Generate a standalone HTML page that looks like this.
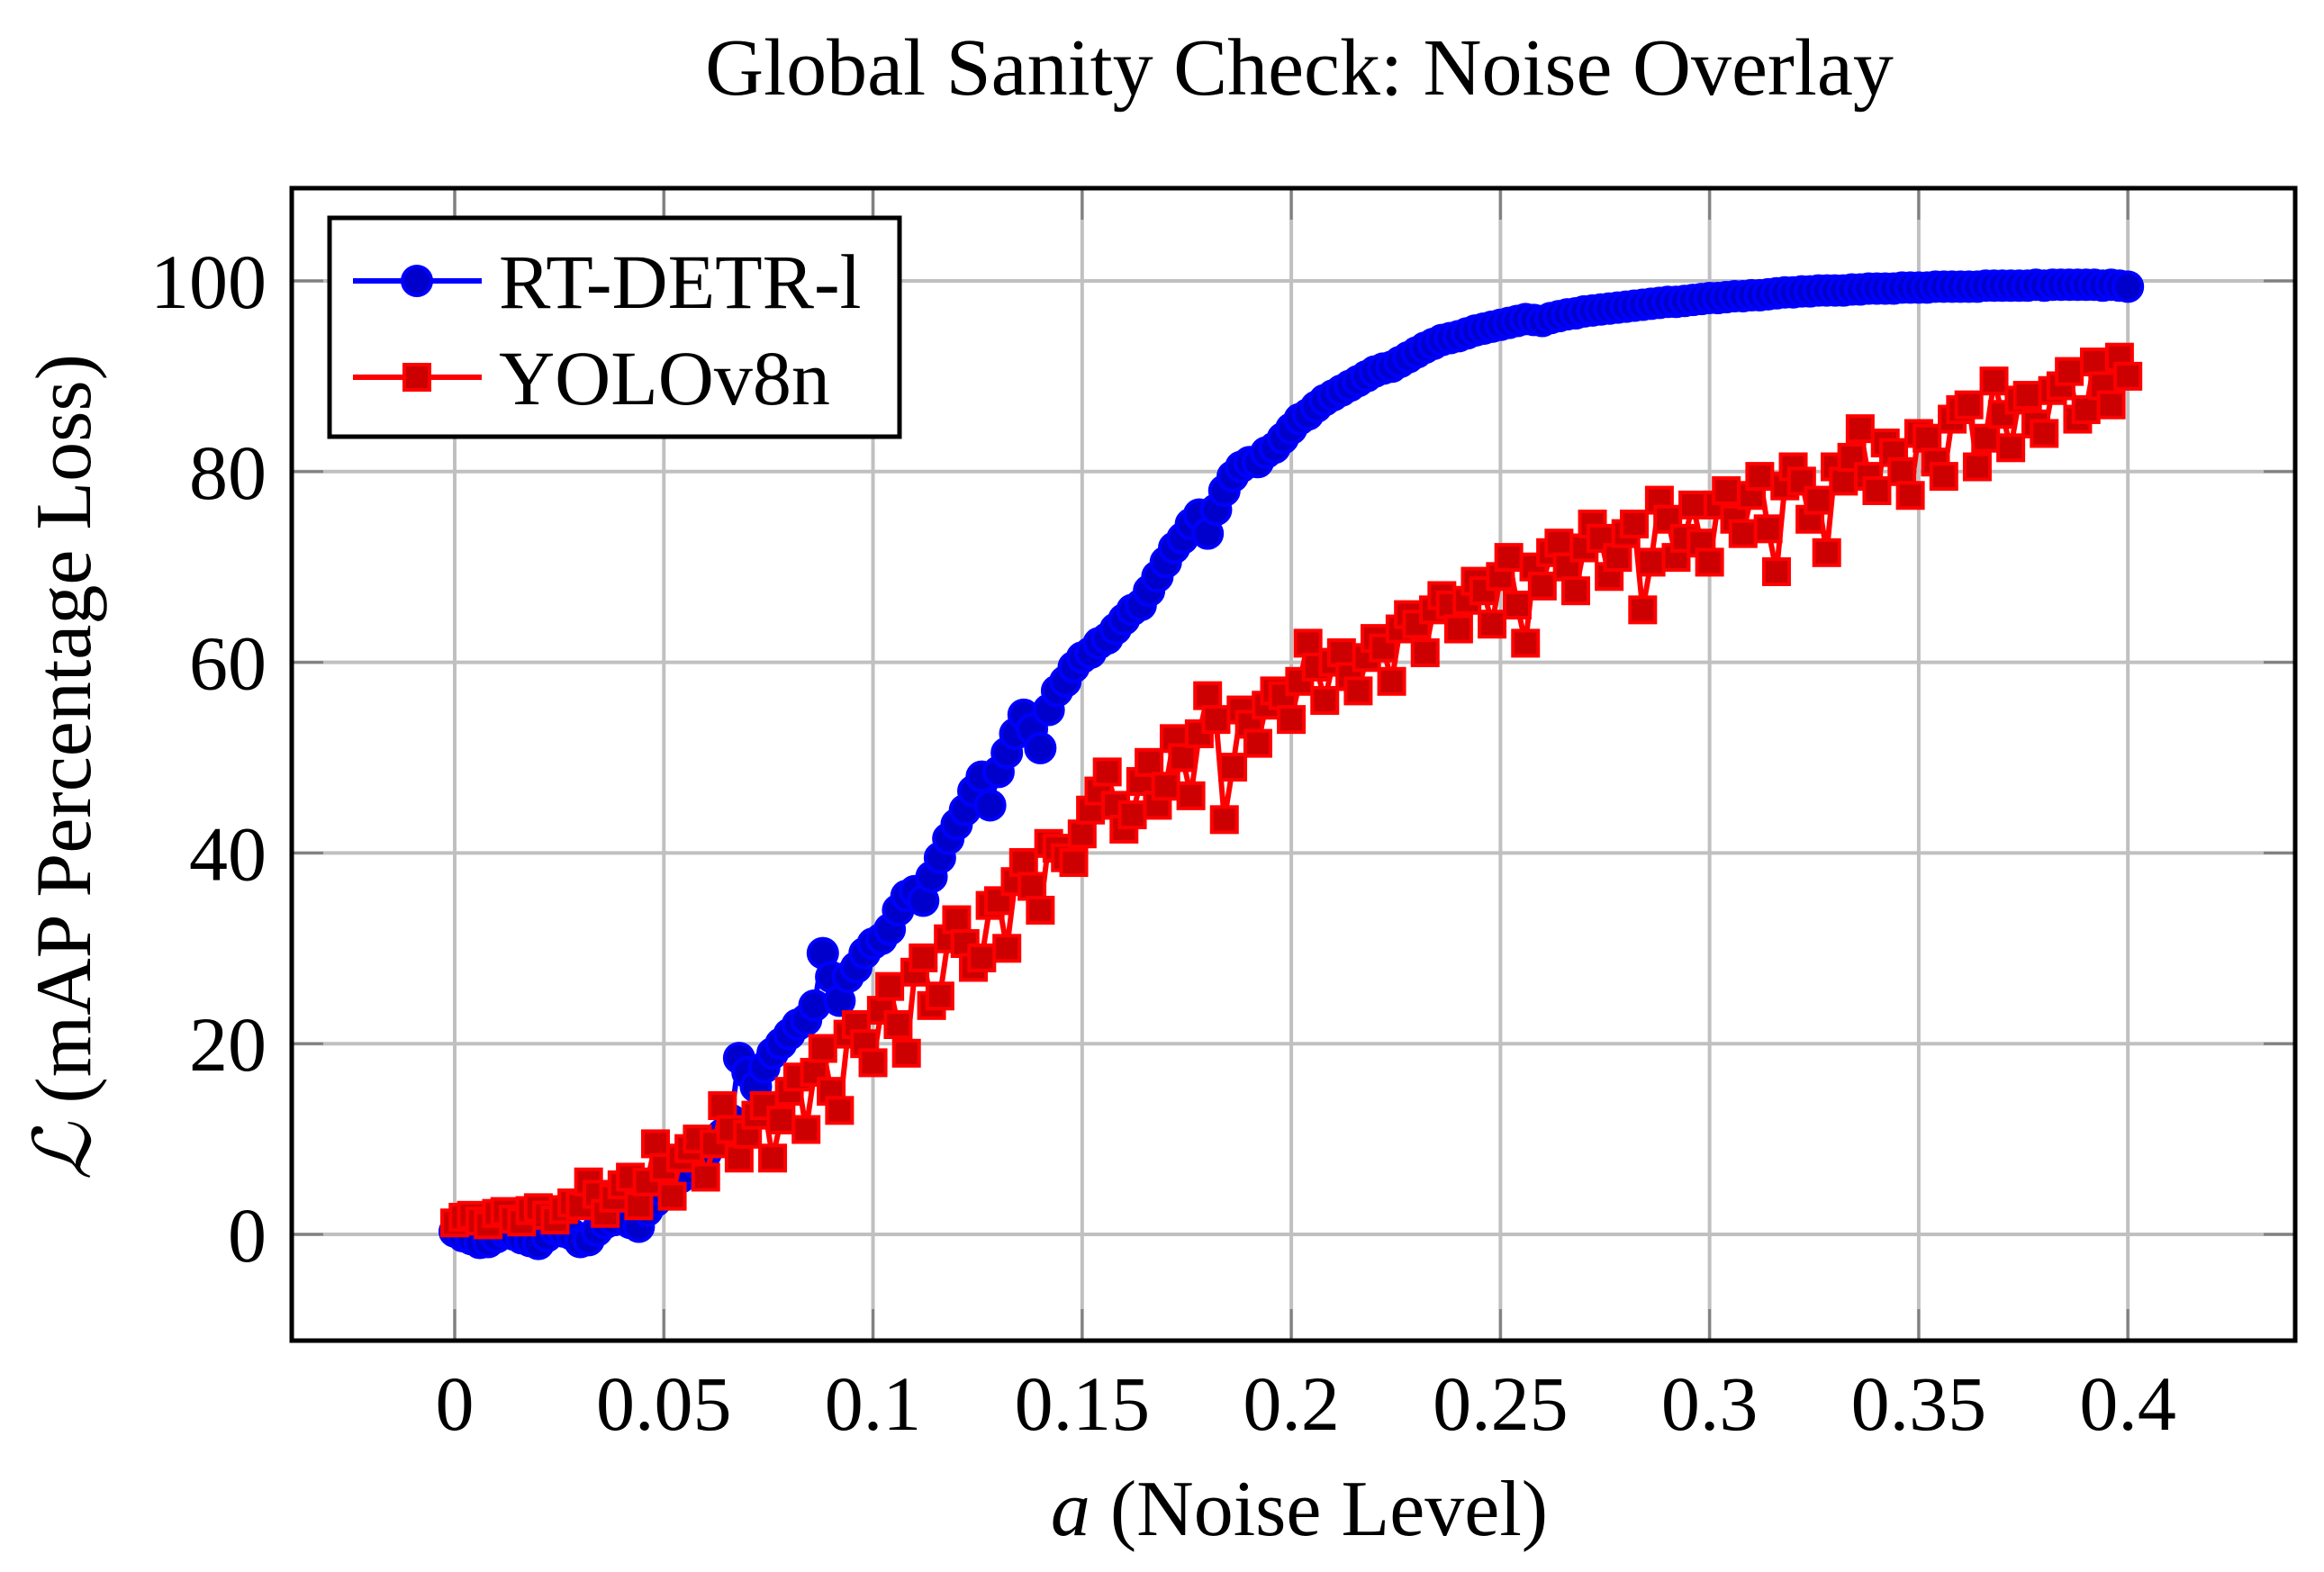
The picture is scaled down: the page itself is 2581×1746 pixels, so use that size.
<!DOCTYPE html>
<html><head><meta charset="utf-8"><style>
html,body{margin:0;padding:0;background:#fff;}
svg{display:block;font-family:"Liberation Serif",serif;}
</style></head><body>
<svg id="chart" width="2581" height="1746" viewBox="0 0 2581 1746" xmlns="http://www.w3.org/2000/svg">
<text x="1443" y="105" font-size="90" text-anchor="middle">Global Sanity Check: Noise Overlay</text>
<g id="grid"></g>
<g id="series"></g>
<rect x="324" y="209" width="2225" height="1280" fill="none" stroke="#000" stroke-width="5"/>
<g id="ticks"></g>
<text x="1443" y="1705" font-size="88" text-anchor="middle"><tspan font-style="italic">a</tspan> (Noise Level)</text>
<text transform="translate(100,852) rotate(-90)" font-size="88" text-anchor="middle"><tspan font-style="italic">ℒ</tspan> (mAP Percentage Loss)</text>
<g>
<rect x="366" y="242" width="633" height="243" fill="#fff" stroke="#000" stroke-width="5"/>
<g>
<line x1="392" y1="312" x2="535" y2="312" stroke="#0000ff" stroke-width="6"/>
<circle cx="463" cy="312" r="16" fill="#0000cc" stroke="#0000ff" stroke-width="4"/>
<text x="554" y="342" font-size="86">RT-DETR-l</text>
</g>
<g>
<line x1="392" y1="419" x2="535" y2="419" stroke="#ff0000" stroke-width="6"/>
<rect x="449" y="405" width="28" height="28" fill="#cc0000" stroke="#ff0000" stroke-width="4"/>
<text x="554" y="449" font-size="86">YOLOv8n</text>
</g>
</g>
</svg>
<script>
const xTicks = [0, 0.05, 0.1, 0.15, 0.2, 0.25, 0.3, 0.35, 0.4];
const xTickLabels = ["0", "0.05", "0.1", "0.15", "0.2", "0.25", "0.3", "0.35", "0.4"];
const yTicks = [0, 20, 40, 60, 80, 100];
const yTickLabels = ["0", "20", "40", "60", "80", "100"];
const xStep = 0.004;
const rtdetrValues = [0.3,-0.5,-0.8,0.2,-0.4,-1.0,0.5,0.0,-0.6,1.2,2.0,0.8,3.5,5.5,6.8,8.5,10.5,18.5,15.5,19.0,21.0,22.5,29.5,24.5,28.0,30.5,32.0,35.5,35.0,39.5,43.0,46.5,45.0,50.5,54.5,51.0,57.0,59.5,61.0,62.5,64.5,66.0,69.0,72.0,74.5,73.5,78.0,80.5,81.0,82.5,84.5,86.0,87.5,88.5,89.5,90.5,91.0,92.0,93.0,93.8,94.2,94.8,95.2,95.6,96.0,95.8,96.3,96.6,96.9,97.1,97.3,97.5,97.7,97.8,98.0,98.2,98.3,98.4,98.5,98.7,98.8,98.9,99.0,99.0,99.1,99.2,99.2,99.3,99.3,99.4,99.4,99.4,99.5,99.5,99.5,99.5,99.6,99.6,99.6,99.6,99.4];
const rtdetrMidValues = [-0.2,-0.9,-0.3,0.0,-0.7,-0.2,0.3,-0.8,0.4,1.5,1.2,2.5,4.5,6.0,7.5,9.5,12.0,17.0,17.5,20.0,22.0,24.0,27.0,27.0,29.5,31.0,34.0,36.0,37.5,41.5,44.5,48.0,48.5,52.5,53.0,55.0,58.0,60.5,62.0,63.5,65.5,67.5,70.5,73.0,75.5,76.0,79.5,81.0,82.0,83.5,85.5,86.8,88.0,89.0,90.0,90.8,91.5,92.5,93.4,94.0,94.5,95.0,95.4,95.8,95.9,96.1,96.5,96.8,97.0,97.2,97.4,97.6,97.8,97.9,98.1,98.2,98.4,98.5,98.6,98.8,98.9,99.0,99.0,99.1,99.2,99.2,99.3,99.3,99.4,99.4,99.4,99.5,99.5,99.5,99.6,99.6,99.6,99.6,99.5,99.5];
const yoloValues = [1.2,2.0,1.0,2.4,1.3,2.8,1.5,3.3,5.5,2.2,5.2,3.0,9.5,4.0,9.0,6.0,13.5,8.0,12.5,8.0,15.0,11.0,19.5,13.0,22.0,18.0,26.0,19.0,29.0,25.0,33.0,28.0,34.5,30.0,39.0,34.0,40.5,39.0,44.5,48.5,42.5,47.5,45.0,52.0,46.0,56.5,43.5,55.0,51.5,57.0,54.0,62.0,56.0,61.0,57.0,62.5,58.0,65.0,61.0,67.0,63.5,68.5,64.0,71.0,62.0,68.0,72.5,67.5,74.5,69.0,73.5,65.5,77.0,71.0,76.5,70.5,78.0,73.5,79.5,69.5,80.5,75.0,71.5,79.0,84.5,78.0,82.0,77.5,83.5,79.5,86.5,80.5,89.5,82.5,88.0,84.0,89.0,85.5,91.5,87.0,90.0];
const yoloMidValues = [1.8,1.4,2.2,1.6,2.5,2.0,2.6,3.0,4.2,3.8,6.0,5.5,7.0,8.0,10.0,9.5,11.0,10.5,13.5,12.0,16.5,17.0,15.0,21.0,20.0,23.5,22.0,27.5,24.0,31.0,30.5,29.0,35.0,37.0,36.5,41.0,39.5,42.0,46.5,45.0,44.0,49.5,47.0,50.0,52.5,54.0,49.0,53.5,55.5,56.5,58.0,59.5,60.0,58.5,60.5,61.5,63.5,64.0,65.5,66.0,66.5,67.5,69.0,66.0,70.0,71.5,70.0,72.0,73.0,71.0,74.5,70.5,75.0,73.0,72.5,76.5,75.0,77.5,74.0,78.5,79.0,77.0,80.5,81.5,79.5,83.0,80.0,84.0,81.0,85.5,87.0,83.5,86.0,87.5,85.0,88.5,90.5,86.5,89.0,92.0];

const NS = "http://www.w3.org/2000/svg";
const L = 324, R = 2549, T = 209, B = 1489;
const X0 = 505, XPER = (R - X0) / 0.44;
const Y0 = 1371, YPER = (1371 - 312) / 100;
function sx(v) { return X0 + v * XPER; }
function sy(v) { return Y0 - v * YPER; }
function mk(tag, attrs, parent) {
  const e = document.createElementNS(NS, tag);
  for (const k in attrs) e.setAttribute(k, attrs[k]);
  parent.appendChild(e);
  return e;
}
const grid = document.getElementById('grid');
const ticks = document.getElementById('ticks');
xTicks.forEach((t, i) => {
  const g = mk('line', {x1: sx(t), x2: sx(t), y1: T, y2: B, stroke: '#c0c0c0', 'stroke-width': 4}, grid);
  
  
  mk('line', {x1: sx(t), x2: sx(t), y1: B, y2: B - 35, stroke: '#808080', 'stroke-width': 3}, grid);
  mk('line', {x1: sx(t), x2: sx(t), y1: T, y2: T + 35, stroke: '#808080', 'stroke-width': 3}, grid);
  const tx = mk('text', {x: sx(t), y: 1588, 'font-size': 86, 'text-anchor': 'middle'}, ticks);
  tx.textContent = xTickLabels[i];
  
  
});
yTicks.forEach((t, i) => {
  const g = mk('line', {x1: L, x2: R, y1: sy(t), y2: sy(t), stroke: '#c0c0c0', 'stroke-width': 4}, grid);
  
  
  mk('line', {x1: L, x2: L + 35, y1: sy(t), y2: sy(t), stroke: '#808080', 'stroke-width': 3}, grid);
  mk('line', {x1: R, x2: R - 35, y1: sy(t), y2: sy(t), stroke: '#808080', 'stroke-width': 3}, grid);
  const tx = mk('text', {x: 296, y: sy(t) + 30, 'font-size': 86, 'text-anchor': 'end'}, ticks);
  tx.textContent = yTickLabels[i];
  
  
});
const series = document.getElementById('series');
function drawSeries(vals, mids, color, fill, shape, name) {
  const g = mk('g', {}, series);
  
  
  const pts = [];
  vals.forEach((v, i) => {
    pts.push([i * xStep, v]);
    if (i < mids.length) pts.push([i * xStep + xStep / 2, mids[i]]);
  });
  const pl = mk('polyline', {points: pts.map(p => sx(p[0]) + ',' + sy(p[1])).join(' '), fill: 'none', stroke: color, 'stroke-width': 6, 'stroke-linejoin': 'round'}, g);
  
  
  pts.forEach(p => {
    const cx = sx(p[0]), cy = sy(p[1]);
    let m;
    if (shape === 'circle') m = mk('circle', {cx: cx, cy: cy, r: 16, fill: fill, stroke: color, 'stroke-width': 4}, g);
    else m = mk('rect', {x: cx - 14, y: cy - 14, width: 28, height: 28, fill: fill, stroke: color, 'stroke-width': 4}, g);
    
    
  });
}
drawSeries(rtdetrValues, rtdetrMidValues, '#0000ff', '#0000cc', 'circle', 'rtdetr-series');
drawSeries(yoloValues, yoloMidValues, '#ff0000', '#cc0000', 'square', 'yolov8n-series');
</script>
</body></html>
